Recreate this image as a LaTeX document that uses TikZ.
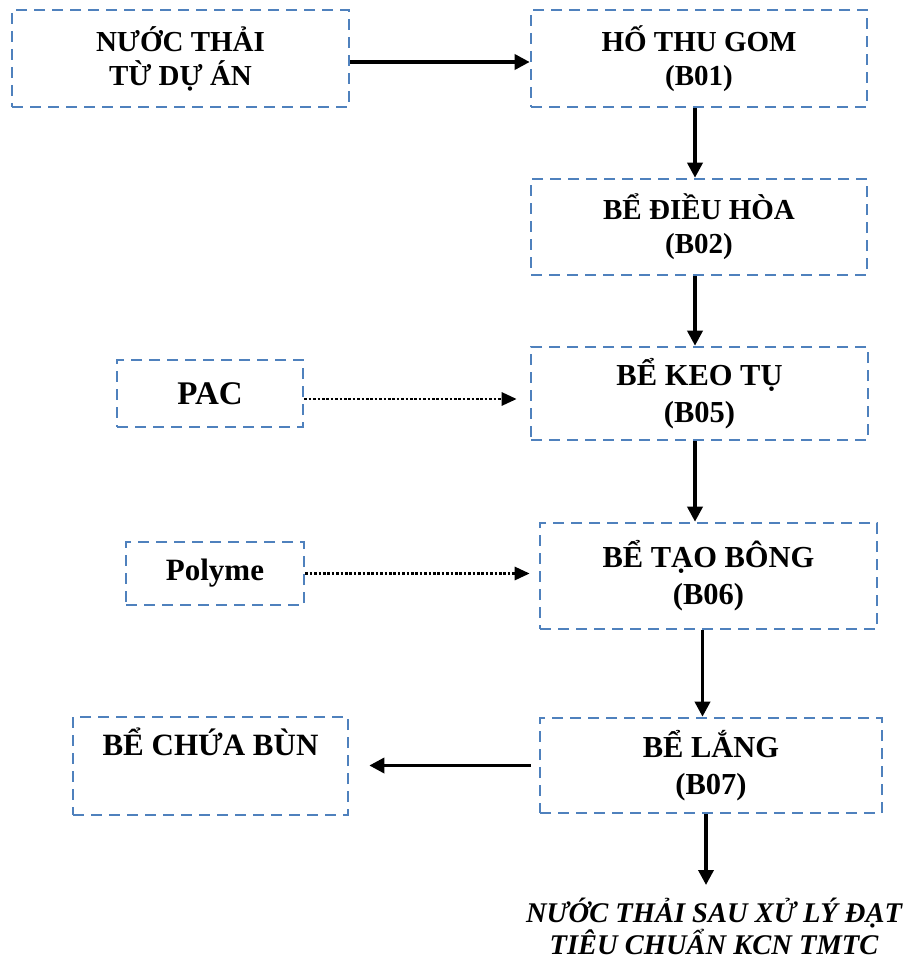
\documentclass[tikz,border=0pt]{standalone}
\usepackage{fontspec}
\setmainfont{Liberation Serif}
\usetikzlibrary{arrows.meta}
\definecolor{boxblue}{RGB}{79,129,189}
\tikzset{
  tank/.style={draw=boxblue, line width=2.6pt, dash pattern=on 11pt off 7pt,
    rectangle, inner sep=0pt, align=center, font=\bfseries\fontsize{29}{34}\selectfont},
  bigtank/.style={tank, font=\bfseries\fontsize{30.5}{37}\selectfont},
  flow/.style={line width=3.5pt, -{Triangle[length=15pt,width=15pt]}},
  dose/.style={line width=2.8pt, dash pattern=on 2.6pt off 1.8pt,
    -{Triangle[length=15pt,width=13pt]}}
}
\begin{document}
\begin{tikzpicture}[x=1pt,y=-1pt]
  \useasboundingbox (0,0) rectangle (915,960);

  % main treatment line
  \node[tank, minimum width=337pt, minimum height=97pt] (src) at (180.5,58.5) {NƯỚC THẢI\\TỪ DỰ ÁN};
  \node[tank, minimum width=336pt, minimum height=97pt] (b01) at (699,58.5) {HỐ THU GOM\\(B01)};
  \node[tank, minimum width=336pt, minimum height=96pt] (b02) at (699,227) {BỂ ĐIỀU HÒA\\(B02)};
  \node[bigtank, minimum width=337pt, minimum height=93pt] (b05) at (699.5,393.5) {BỂ KEO TỤ\\(B05)};
  \node[bigtank, minimum width=337pt, minimum height=106pt] (b06) at (708.5,576) {BỂ TẠO BÔNG\\(B06)};
  \node[bigtank, minimum width=342pt, minimum height=95pt] (b07) at (711,765.5) {BỂ LẮNG\\(B07)};

  % chemical dosing and sludge
  \node[tank, font=\bfseries\fontsize{33}{38}\selectfont, minimum width=186pt, minimum height=67pt] (pac) at (210,393.5) {PAC};
  \node[tank, font=\bfseries\fontsize{31}{36}\selectfont, minimum width=178pt, minimum height=63pt] (poly) at (215,573.5) {Polyme};
  \node[bigtank, font=\bfseries\fontsize{31}{37}\selectfont, minimum width=275pt, minimum height=98pt] (bun) at (210.5,766) {BỂ CHỨA BÙN\\\strut};

  % treated effluent
  \node[align=center, inner sep=0pt, font=\bfseries\itshape\fontsize{28.5}{30}\selectfont] (out) at (714,926)
    {NƯỚC THẢI SAU XỬ LÝ ĐẠT\\TIÊU CHUẨN KCN TMTC};
  \coordinate (outtip) at (706,885);

  % connectors
  \draw[flow] ([yshift=-3.5pt]src.east) -- ([yshift=-3.5pt]b01.west);
  \draw[flow] ([xshift=-4pt]b01.south) -- ([xshift=-4pt]b01.south |- b02.north);
  \draw[flow] ([xshift=-4pt]b02.south) -- ([xshift=-4pt]b02.south |- b05.north);
  \draw[flow] ([xshift=-4.5pt]b05.south) -- ([xshift=-4.5pt]b05.south |- b06.north);
  \draw[flow] ([xshift=-6pt]b06.south) -- ([xshift=-6pt]b06.south |- b07.north);
  \draw[flow, shorten <=8pt, shorten >=20pt] (b07.west) -- (b07.west -| bun.east);
  \draw[flow] (b07.south -| outtip) -- (outtip);
  \draw[dose, shorten >=13pt] ([yshift=-5.5pt]pac.east) -- ([yshift=-5.5pt]pac.east -| b05.west);
  \draw[dose, shorten >=9pt] (poly.east) -- (poly.east -| b06.west);
\end{tikzpicture}
\end{document}
